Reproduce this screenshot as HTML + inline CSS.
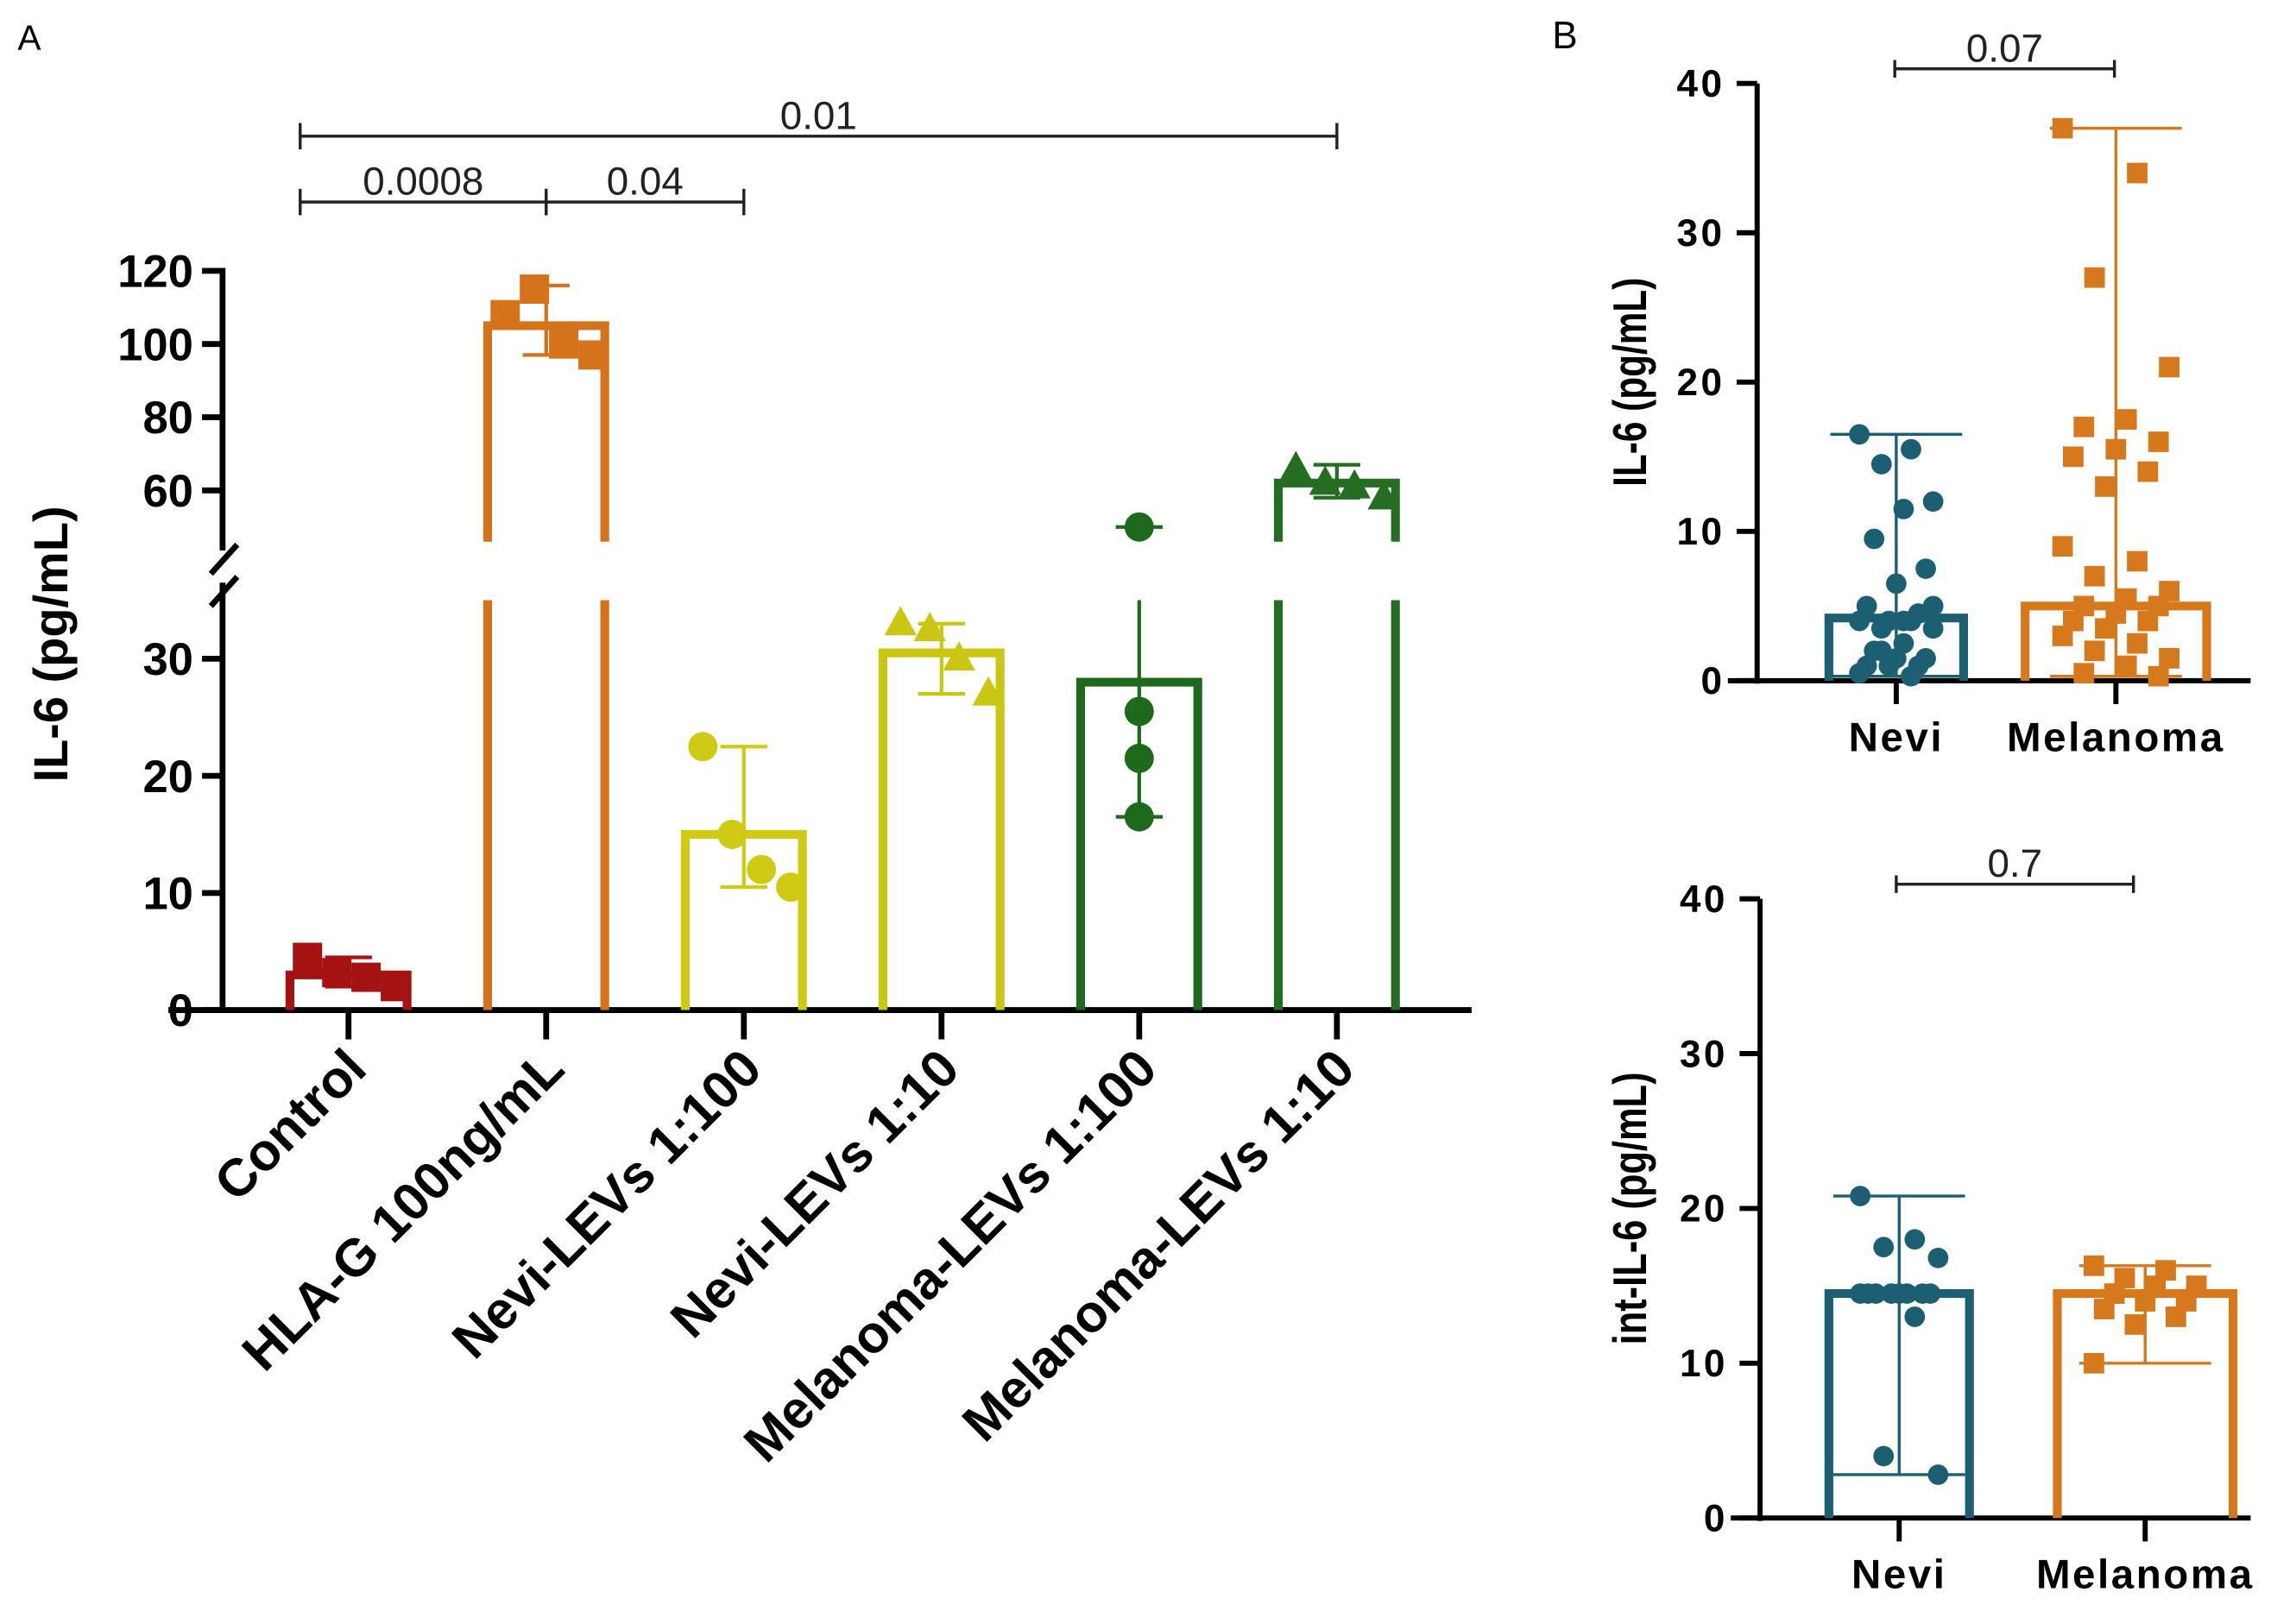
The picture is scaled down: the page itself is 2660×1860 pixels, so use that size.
<!DOCTYPE html>
<html><head><meta charset="utf-8"><style>
html,body{margin:0;padding:0;background:#fff;}
svg{display:block;}
text{font-family:"Liberation Sans",sans-serif;}
</style></head><body>
<svg id="fig" width="2660" height="1860" viewBox="0 0 1568 1096.4" xmlns="http://www.w3.org/2000/svg"></svg>
<script>
// ---------- Panel A data ----------
const catsA = ["Control","HLA-G 100ng/mL","Nevi-LEVs 1:100","Nevi-LEVs 1:10","Melanoma-LEVs 1:100","Melanoma-LEVs 1:10"];
const meansA = [3, 105, 15, 30.5, 28, 62];
const errLoA = [2, 97, 10.5, 27, 16.5, 58];
const errHiA = [4.5, 116, 22.5, 33, 50, 67];
const ptsA = [[4.5,3.2,2.8,2],[108,115,100,97],[22.5,15,12,10.5],[33,32.5,30,27],[50,25.5,21.5,16.5],[66,62,61,58]];
const colorsA = ["#a51212","#d4731c","#cfcb14","#c9c714","#1d6a1d","#246d22"];
const shapesA = ["sq","sq","ci","tr","ci","tr"];
const ticksLowA = [0,10,20,30];
const ticksHighA = [60,80,100,120];
const pvalsA = ["0.01","0.0008","0.04"];
// ---------- Panel B data ----------
const catsB = ["Nevi","Melanoma"];
const meansB1 = [4.2, 5];
const ptsB1 = [[16.5,15.5,14.5,12,11.5,9.5,7.5,6.5,5,4.5,4,4,4,3.5,3.5,2.5,2,1.5,1.5,1,1,1,0.5,0.3,2,5,4],
               [37,34,27,21,17.5,17,16,15.5,15,14,13,9,8,7,6,5.5,5,5,4.5,4,4,3.5,3,2.5,2,1.5,1,0.5,0.3]];
const meansB2 = [14.5, 14.5];
const ptsB2 = [[20.8,18,17.5,16.8,14.5,14.5,14.5,14.5,14.5,14.5,14.5,14.5,13,4,2.8],
               [16.3,16,15.5,15,15,14.5,14,14,13.5,13,12.5,10]];
const ticksB = [0,10,20,30,40];
const pvalsB = ["0.07","0.7"];
const colorsB = ["#1c5e72","#d6781c"];

const NS="http://www.w3.org/2000/svg";
const svg=document.getElementById('fig');
function mk(tag,attrs,parent){const e=document.createElementNS(NS,tag);for(const k in attrs)e.setAttribute(k,attrs[k]);(parent||svg).appendChild(e);return e;}
function txt(s,attrs,parent){const e=mk('text',attrs,parent);e.textContent=s;return e;}
function marker(shape,x,y,r,col,g){
  if(shape==='sq') return mk('rect',{x:x-r,y:y-r,width:2*r,height:2*r,fill:col},g);
  if(shape==='ci') return mk('circle',{cx:x,cy:y,r:r,fill:col},g);
  return mk('polygon',{points:`${x},${y-r*1.2} ${x-r*1.1},${y+r*0.8} ${x+r*1.1},${y+r*0.8}`,fill:col},g);
}

// ---------- Panel A ----------
const gA=mk('g',{});


txt("A",{x:12,y:34,'font-size':24},gA);
const A0=690, lowScale=8, breakLow=35, breakHigh=46, yHighTop=185, highScale=2.5;
function yA(v){ if(v<=breakLow) return A0-v*lowScale; return 335-(v-60)*highScale; }
const xA0=238, xStep=135;
function xA(i){return xA0+i*xStep;}
const axA=mk('g',{},gA);


mk('line',{x1:152,y1:A0+2,x2:152,y2:yA(breakLow)-12,stroke:'#000','stroke-width':4},axA);
mk('line',{x1:152,y1:yA(breakHigh)+6,x2:152,y2:yHighTop-2,stroke:'#000','stroke-width':4},axA);
mk('line',{x1:144,y1:392,x2:162,y2:372,stroke:'#000','stroke-width':4},axA);
mk('line',{x1:144,y1:414,x2:162,y2:394,stroke:'#000','stroke-width':4},axA);
ticksLowA.concat(ticksHighA).forEach(t=>{
  const y=yA(t);
  mk('line',{x1:138,y1:y,x2:152,y2:y,stroke:'#000','stroke-width':4},axA);
  const l=txt(String(t),{x:132,y:y+11,'font-size':31,'font-weight':'bold','text-anchor':'end'},axA);
  
});
const xax=mk('line',{x1:115,y1:A0,x2:1005,y2:A0,stroke:'#000','stroke-width':4},gA);

const yt=txt("IL-6 (pg/mL)",{x:0,y:0,'font-size':33,'font-weight':'bold','text-anchor':'middle',transform:'translate(46,440) rotate(-90)'},gA);

catsA.forEach((c,i)=>{
  const x=xA(i), col=colorsA[i], g=mk('g',{},gA);
  
  
  const hw=40, top=yA(meansA[i]);
  if(meansA[i]<=breakLow){
    mk('path',{d:`M${x-hw},${A0} V${top} H${x+hw} V${A0}`,fill:'none',stroke:col,'stroke-width':6},g);
  } else {
    mk('path',{d:`M${x-hw},${A0} V${yA(breakLow)}`,stroke:col,'stroke-width':6},g);
    mk('path',{d:`M${x+hw},${A0} V${yA(breakLow)}`,stroke:col,'stroke-width':6},g);
    mk('path',{d:`M${x-hw},${yA(breakHigh)} V${top} H${x+hw} V${yA(breakHigh)}`,fill:'none',stroke:col,'stroke-width':6},g);
  }
  const lo=errLoA[i], hi=errHiA[i];
  if(hi>breakLow && lo<=breakLow){
    mk('line',{x1:x,y1:yA(lo),x2:x,y2:yA(breakLow),stroke:col,'stroke-width':2.5},g);
  } else mk('line',{x1:x,y1:yA(lo),x2:x,y2:yA(hi),stroke:col,'stroke-width':2.5},g);
  [lo,hi].forEach(v=>mk('line',{x1:x-16,y1:yA(v),x2:x+16,y2:yA(v),stroke:col,'stroke-width':2.5},g));
  const offs=[-28,-8,12,32];
  ptsA[i].forEach((v,j)=>{
    const ox = (i===4) ? 0 : offs[j%4];
    const m=marker(shapesA[i],x+ox,yA(v),10,col,g);
    
  });
  mk('line',{x1:x,y1:A0,x2:x,y2:A0+20,stroke:'#000','stroke-width':4},gA);
  const lab=txt(c,{x:0,y:0,'font-size':36,'font-weight':'bold','text-anchor':'end',transform:`translate(${x+14},${732}) rotate(-45)`},gA);
  
});
function bracket(x1,x2,y,label,fs,g,name,h){
  const b=mk('g',{},g);
  
  
  mk('line',{x1:x1,y1:y,x2:x2,y2:y,stroke:'#222','stroke-width':2},b);
  mk('line',{x1:x1,y1:y-h,x2:x1,y2:y+h,stroke:'#222','stroke-width':2},b);
  mk('line',{x1:x2,y1:y-h,x2:x2,y2:y+h,stroke:'#222','stroke-width':2},b);
  txt(label,{x:(x1+x2)/2,y:y-5,'font-size':27,'text-anchor':'middle',fill:'#222'},b);
}
bracket(xA(0)-33,xA(5),93,pvalsA[0],26,gA,'p-value-bracket-1',9);
bracket(xA(0)-33,xA(1),138,pvalsA[1],26,gA,'p-value-bracket-2',9);
bracket(xA(1),xA(2),138,pvalsA[2],26,gA,'p-value-bracket-3',9);

// ---------- Panel B ----------
function panelB(gname,yBase,yTop,xAxis,xs,hws,means,pts,title,pval,bx,titleScale){
  const g=mk('g',{});
  
  
  const sc=(yBase-yTop)/40;
  const yB=v=>yBase-v*sc;
  mk('line',{x1:xAxis,y1:yBase+2,x2:xAxis,y2:yTop,stroke:'#000','stroke-width':3.5},g);
  mk('line',{x1:xAxis-20,y1:yBase,x2:1537,y2:yBase,stroke:'#000','stroke-width':3.5},g);
  ticksB.forEach(t=>{
    mk('line',{x1:xAxis-14,y1:yB(t),x2:xAxis,y2:yB(t),stroke:'#000','stroke-width':3.5},g);
    const l=txt(String(t),{x:xAxis-22,y:yB(t)+9,'font-size':26,'font-weight':'bold','text-anchor':'end','letter-spacing':2},g);
    
  });
  const t=txt(title,{x:0,y:0,'font-size':32,'font-weight':'bold','text-anchor':'middle',transform:`translate(1124,${(yBase+yTop)/2}) rotate(-90) scale(${titleScale},1)`},g);
  
  catsB.forEach((c,i)=>{
    const x=xs[i], col=colorsB[i], hw=hws[i];
    const bg=mk('g',{},g);
    
    
    mk('path',{d:`M${x-hw},${yBase} V${yB(means[i])} H${x+hw} V${yBase}`,fill:'none',stroke:col,'stroke-width':6},bg);
    const mx=Math.max(...pts[i]), mn=Math.min(...pts[i]);
    mk('line',{x1:x,y1:yB(mn),x2:x,y2:yB(mx),stroke:col,'stroke-width':2},bg);
    [mn,mx].forEach(v=>mk('line',{x1:x-45,y1:yB(v),x2:x+45,y2:yB(v),stroke:col,'stroke-width':2},bg));
    pts[i].forEach((v,j)=>{
      const jit=(((j*7)%11)-5)/5*(hw-10)*0.7;
      const m=marker(i===0?'ci':'sq',x+jit,yB(v),7,col,bg);
      
    });
    mk('line',{x1:x,y1:yBase,x2:x,y2:yBase+16,stroke:'#000','stroke-width':3.5},g);
    const l=txt(c,{x:x,y:yBase+48,'font-size':28,'font-weight':'bold','text-anchor':'middle','letter-spacing':1.5},g);
    
  });
  bracket(bx[0],bx[1],yTop-10,pval,25,g,'p-value-bracket',6);
  return g;
}
txt("B",{x:1060,y:33,'font-size':26});
panelB('panel-b-top',465,57,1200,[1295,1445],[46,62],meansB1,ptsB1,"IL-6 (pg/mL)",pvalsB[0],[1294,1444],0.78);
panelB('panel-b-bottom',1037,614,1202,[1297,1465],[48,60],meansB2,ptsB2,"int-IL-6 (pg/mL)",pvalsB[1],[1295,1457],0.8);
</script>
</body></html>
